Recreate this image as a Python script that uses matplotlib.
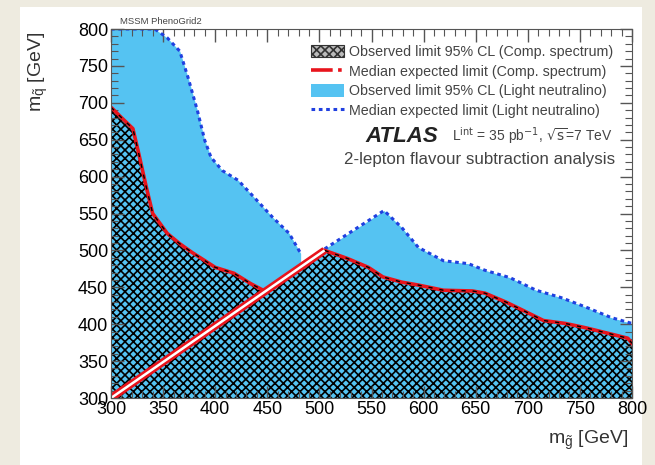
import numpy as np
import matplotlib.pyplot as plt
from matplotlib.patches import Rectangle
from matplotlib.lines import Line2D
from matplotlib.patches import Patch

plt.rcParams['font.family'] = ['Liberation Sans', 'DejaVu Sans']
plt.rcParams['hatch.color'] = '#1d4a5c'
plt.rcParams['hatch.linewidth'] = 1.2

# light neutralino: observed limit (upper edge of the blue area)
ln_x = [300, 342, 354, 366, 374, 383, 390, 396, 407, 422, 434, 455, 471, 482, 482,
        505, 562, 579, 595, 619, 643, 659, 683, 708, 732, 756, 780, 800]
ln_y = [800, 800, 788, 770, 734, 689, 649, 626, 608, 595, 577, 545, 523, 496, 482,
        502, 554, 531, 504, 486, 482, 473, 463, 446, 436, 423, 409, 401]

# compressed spectrum: observed limit, left branch and right branch
cl_x = [300, 310, 321, 326, 334, 340, 354, 366, 378, 400, 418, 434, 446]
cl_y = [694, 680, 665, 635, 585, 550, 523, 509, 497, 477, 469, 455, 446]
cr_x = [505, 527, 547, 561, 579, 595, 619, 647, 659, 679, 695, 715, 736, 756, 776, 796, 800]
cr_y = [500, 489, 477, 464, 457, 453, 446, 445, 442, 430, 419, 405, 401, 395, 388, 381, 374]

# kinematic diagonal
diag_x = [300, 505]
diag_y = [300, 500]

fig = plt.figure(figsize=(6.55, 4.65), dpi=100, facecolor='#eeebe0')
fig.patches.append(Rectangle((20 / 655, 0), 622 / 655, 458 / 465, transform=fig.transFigure,
                             facecolor='white', edgecolor='none', zorder=-1))
ax = fig.add_axes([111 / 655, 1 - 398 / 465, 521 / 655, 369 / 465])

blue = '#55c3f2'
# blue area down to the axis
ax.fill_between(ln_x, 300, ln_y, color=blue, lw=0, zorder=1)
ax.plot(ln_x[:14], ln_y[:14], color='#2040e0', ls=(0, (1.2, 1.2)), lw=2.2, zorder=4)
ax.plot(ln_x[15:], ln_y[15:], color='#2040e0', ls=(0, (1.2, 1.2)), lw=2.2, zorder=4)

# hatched area below the compressed spectrum limit
hx = cl_x + [diag_x[1]] + cr_x
hy = cl_y + [diag_y[1]] + cr_y
ax.fill_between(hx, 300, hy, facecolor='none', hatch='xxxx', lw=0, zorder=2)
for xs, ys in [(cl_x, cl_y), (cr_x, cr_y)]:
    ax.plot(xs, ys, color='#e8141c', lw=2.6, zorder=5)
    ax.plot(xs, ys, color='black', lw=1.0, ls=(0, (3, 5)), zorder=6)

ax.plot(diag_x, diag_y, color='#e8141c', lw=5.5, zorder=5, solid_capstyle='butt')
ax.plot(diag_x, diag_y, color='white', lw=1.8, zorder=6, solid_capstyle='butt')

ax.set_xlim(300, 800)
ax.set_ylim(300, 800)
ax.set_xticks(np.arange(300, 801, 50))
ax.set_yticks(np.arange(300, 801, 50))
ax.set_xticks(np.arange(300, 801, 10), minor=True)
ax.set_yticks(np.arange(300, 801, 10), minor=True)
ax.tick_params(which='both', direction='in', top=True, right=True, labelsize=13,
               color='#555555', pad=2)
ax.tick_params(which='major', length=9, width=1)
ax.tick_params(which='minor', length=5, width=0.8)
for s in ax.spines.values():
    s.set_color('#555555')
    s.set_zorder(7)
ax.set_axisbelow(False)

fig.text(120 / 655, 1 - 21 / 465, 'MSSM PhenoGrid2', fontsize=6.8, color='#444444',
         ha='left', va='center')
fig.text(38 / 655, 1 - 72 / 465, r'$\mathregular{m_{\tilde{q}}}$ [GeV]', rotation=90,
         fontsize=14, ha='center', va='center', color='#333333')
fig.text(628 / 655, 1 - 440 / 465, r'$\mathregular{m_{\tilde{g}}}$ [GeV]', fontsize=14,
         ha='right', va='center', color='#333333')

handles = [Patch(facecolor='#bbbbbb', edgecolor='#333333', hatch='xxxx', lw=0.8),
           Line2D([], [], color='#e8141c', lw=2.6, ls=(0, (6, 1.5, 1, 1.5))),
           Patch(facecolor=blue, edgecolor='none'),
           Line2D([], [], color='#2040e0', lw=2.2, ls=(0, (1.2, 1.2)))]
labels = ['Observed limit 95% CL (Comp. spectrum)',
          'Median expected limit (Comp. spectrum)',
          'Observed limit 95% CL (Light neutralino)',
          'Median expected limit (Light neutralino)']
ax.legend(handles, labels, loc='upper right', bbox_to_anchor=(0.983, 0.985), frameon=False,
          fontsize=10.3, handlelength=2.3, handleheight=1.0, labelspacing=0.38,
          borderpad=0.2, handletextpad=0.35, labelcolor='#444444')

ax.text(0.628, 0.71, 'ATLAS', transform=ax.transAxes, fontsize=16, fontweight='bold',
        fontstyle='italic', ha='right', va='center', color='#222222')
ax.text(0.962, 0.71, r'L$^{\rm int}$ = 35 pb$^{-1}$, $\sqrt{\rm s}$=7 TeV',
        transform=ax.transAxes, fontsize=10, ha='right', va='center', color='#444444')
ax.text(0.967, 0.645, '2-lepton flavour subtraction analysis', transform=ax.transAxes,
        fontsize=12.2, ha='right', va='center', color='#444444')

fig.savefig('out.png', dpi=100, facecolor=fig.get_facecolor())
